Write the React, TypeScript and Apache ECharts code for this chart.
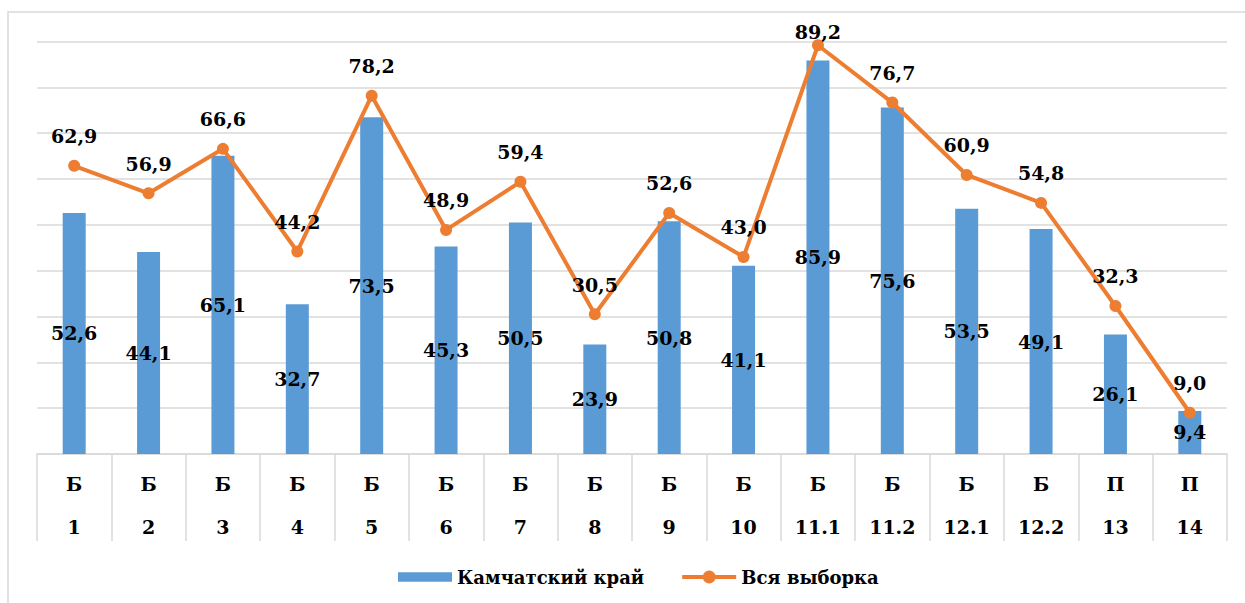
import React, { useEffect, useRef } from "react";
import * as echarts from "echarts";

const groups = ["Б", "Б", "Б", "Б", "Б", "Б", "Б", "Б", "Б", "Б", "Б", "Б", "Б", "Б", "П", "П"];
const codes = ["1", "2", "3", "4", "5", "6", "7", "8", "9", "10", "11.1", "11.2", "12.1", "12.2", "13", "14"];
const kamchatka = [52.6, 44.1, 65.1, 32.7, 73.5, 45.3, 50.5, 23.9, 50.8, 41.1, 85.9, 75.6, 53.5, 49.1, 26.1, 9.4];
const wholeSample = [62.9, 56.9, 66.6, 44.2, 78.2, 48.9, 59.4, 30.5, 52.6, 43.0, 89.2, 76.7, 60.9, 54.8, 32.3, 9.0];
const seriesNames = ["Камчатский край", "Вся выборка"];

// label vertical nudge for line labels (style, not data)
const lineLabelNudge = [0, 0, 0, 0, 0, 0, 0, 0, 0, 0, 16, 0, 0, 0, 0, 0];

const FONT = "DejaVu Serif";
const GRID = "#d9d9d9";
const ORANGE = "#ED7D31";

const fmt = (v: number) => v.toFixed(1).replace(".", ",");

export default function App() {
  const ref = useRef<HTMLDivElement>(null);
  useEffect(() => {
    if (!ref.current) return;
    const chart = echarts.init(ref.current, null, { renderer: "svg" });
    const categories = groups.map((g, i) => `${g}\n${codes[i]}`);
    chart.setOption({
      animation: false,
      backgroundColor: "#ffffff",
      textStyle: { fontFamily: FONT },
      graphic: [
        {
          type: "rect",
          shape: { x: 8, y: 12, width: 1400, height: 800 },
          style: { fill: "none", stroke: GRID, lineWidth: 1.5 },
          silent: true,
          z: -10,
        },
      ],
      grid: { left: 37, right: 18, top: 41.6, bottom: 149 },
      legend: {
        top: 563,
        left: 393,
        itemWidth: 54,
        itemHeight: 16,
        itemGap: 36,
        lineStyle: { width: 4 },
        textStyle: { fontFamily: FONT, fontWeight: "bold", fontSize: 18, color: "#000" },
        data: [
          { name: seriesNames[0], icon: "path://M0,0H51V9H0Z" },
          { name: seriesNames[1], lineStyle: { width: 4, color: ORANGE }, itemStyle: { color: ORANGE } },
        ],
      },
      xAxis: {
        type: "category",
        data: categories,
        axisLine: { lineStyle: { color: GRID, width: 1.5 } },
        axisTick: { show: true, length: 87, interval: 0, lineStyle: { color: GRID, width: 1.5 } },
        axisLabel: {
          interval: 0,
          margin: 8,
          fontFamily: FONT,
          fontWeight: "bold",
          fontSize: 19,
          lineHeight: 43,
          color: "#000",
        },
      },
      yAxis: {
        type: "value",
        min: 0,
        max: 90,
        interval: 10,
        axisLabel: { show: false },
        axisLine: { show: false },
        axisTick: { show: false },
        splitLine: { lineStyle: { color: GRID, width: 1.5 } },
      },
      series: [
        {
          name: seriesNames[0],
          type: "bar",
          data: kamchatka,
          barWidth: 23,
          itemStyle: { color: "#5B9BD5" },
          label: {
            show: true,
            position: "inside",
            formatter: (p: any) => fmt(p.value),
            fontFamily: FONT,
            fontWeight: "bold",
            fontSize: 19,
            color: "#000",
          },
          z: 2,
        },
        {
          name: seriesNames[1],
          type: "line",
          data: wholeSample.map((v, i) => ({
            value: v,
            label: { offset: [0, lineLabelNudge[i]] },
          })),
          symbol: "circle",
          symbolSize: 12,
          lineStyle: { color: ORANGE, width: 4 },
          itemStyle: { color: ORANGE },
          label: {
            show: true,
            position: "top",
            distance: 14,
            formatter: (p: any) => fmt(p.value),
            fontFamily: FONT,
            fontWeight: "bold",
            fontSize: 19,
            color: "#000",
          },
          z: 3,
        },
      ],
    });
    return () => chart.dispose();
  }, []);
  return (
    <div
      ref={ref}
      style={{ position: "fixed", left: 0, top: 0, width: 1245, height: 603, background: "#fff" }}
    />
  );
}
